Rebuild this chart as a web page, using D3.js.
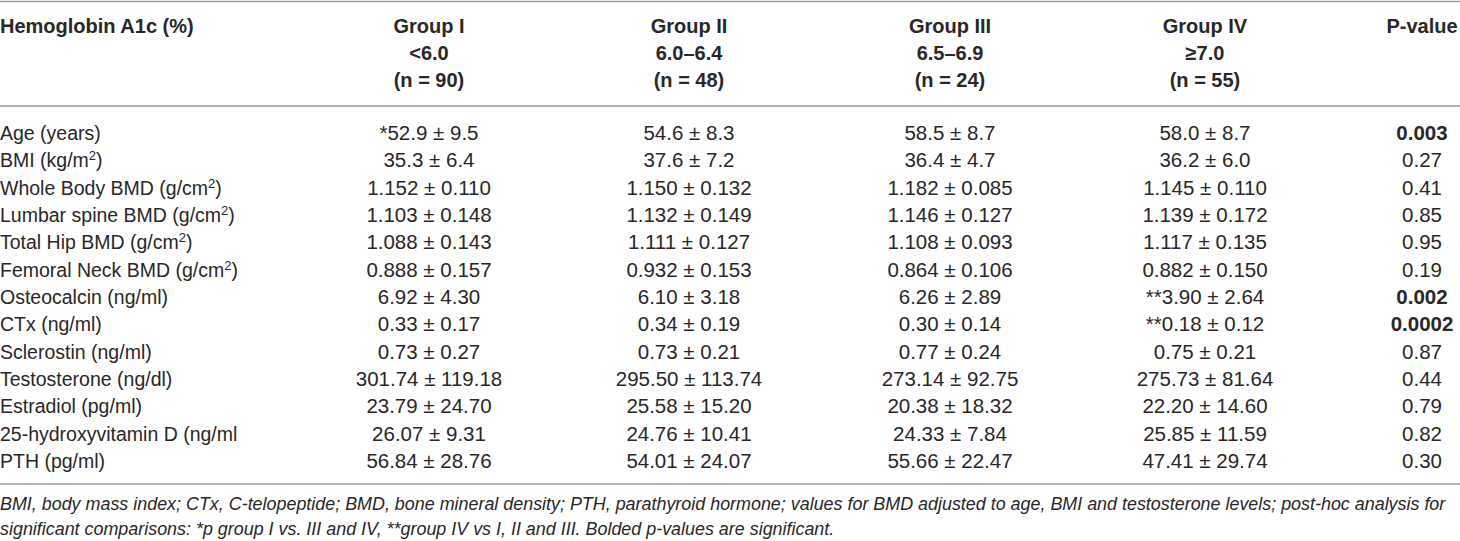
<!DOCTYPE html>
<html>
<head>
<meta charset="utf-8">
<script src="https://cdn.jsdelivr.net/npm/d3@7"></script>
<style>
  body { margin: 0; background: #fff; }
  svg { display: block; }
</style>
</head>
<body>
<div id="wrapper"></div>
<script>
const headerLabel = 'Hemoglobin A1c (%)'
const groups = [
  ['Group I', '<6.0', '(n = 90)'],
  ['Group II', '6.0–6.4', '(n = 48)'],
  ['Group III', '6.5–6.9', '(n = 24)'],
  ['Group IV', '≥7.0', '(n = 55)'],
]
const pHeader = 'P-value'

// row label: text, superscript, closing text
const rowLabels = [
  ['Age (years)', ''],
  ['BMI (kg/m', '2', ')'],
  ['Whole Body BMD (g/cm', '2', ')'],
  ['Lumbar spine BMD (g/cm', '2', ')'],
  ['Total Hip BMD (g/cm', '2', ')'],
  ['Femoral Neck BMD (g/cm', '2', ')'],
  ['Osteocalcin (ng/ml)', ''],
  ['CTx (ng/ml)', ''],
  ['Sclerostin (ng/ml)', ''],
  ['Testosterone (ng/dl)', ''],
  ['Estradiol (pg/ml)', ''],
  ['25-hydroxyvitamin D (ng/ml', ''],
  ['PTH (pg/ml)', ''],
]
const groupI = ['*52.9 ± 9.5', '35.3 ± 6.4', '1.152 ± 0.110', '1.103 ± 0.148', '1.088 ± 0.143', '0.888 ± 0.157', '6.92 ± 4.30', '0.33 ± 0.17', '0.73 ± 0.27', '301.74 ± 119.18', '23.79 ± 24.70', '26.07 ± 9.31', '56.84 ± 28.76']
const groupII = ['54.6 ± 8.3', '37.6 ± 7.2', '1.150 ± 0.132', '1.132 ± 0.149', '1.111 ± 0.127', '0.932 ± 0.153', '6.10 ± 3.18', '0.34 ± 0.19', '0.73 ± 0.21', '295.50 ± 113.74', '25.58 ± 15.20', '24.76 ± 10.41', '54.01 ± 24.07']
const groupIII = ['58.5 ± 8.7', '36.4 ± 4.7', '1.182 ± 0.085', '1.146 ± 0.127', '1.108 ± 0.093', '0.864 ± 0.106', '6.26 ± 2.89', '0.30 ± 0.14', '0.77 ± 0.24', '273.14 ± 92.75', '20.38 ± 18.32', '24.33 ± 7.84', '55.66 ± 22.47']
const groupIV = ['58.0 ± 8.7', '36.2 ± 6.0', '1.145 ± 0.110', '1.139 ± 0.172', '1.117 ± 0.135', '0.882 ± 0.150', '**3.90 ± 2.64', '**0.18 ± 0.12', '0.75 ± 0.21', '275.73 ± 81.64', '22.20 ± 14.60', '25.85 ± 11.59', '47.41 ± 29.74']
const pValues = ['0.003', '0.27', '0.41', '0.85', '0.95', '0.19', '0.002', '0.0002', '0.87', '0.44', '0.79', '0.82', '0.30']
const pBold = [true, false, false, false, false, false, true, true, false, false, false, false, false]
const footnote = [
  'BMI, body mass index; CTx, C-telopeptide; BMD, bone mineral density; PTH, parathyroid hormone; values for BMD adjusted to age, BMI and testosterone levels; post-hoc analysis for',
  'significant comparisons: *p group I vs. III and IV, **group IV vs I, II and III. Bolded p-values are significant.',
]

const width = 1460
const height = 541
const textColor = '#2a2728'
const ruleColor = '#9a9a9a'
const font = '"Liberation Sans", Arial, sans-serif'
const labelSize = 19.5
const valueSize = 20.5
const headSize = 20

const svg = d3.select('#wrapper').append('svg')
  .attr('width', width)
  .attr('height', height)
  .style('font-family', font)
  .attr('fill', textColor)

// column centres (group I..IV, p-value)
const colX = d3.scaleOrdinal()
  .domain([0, 1, 2, 3, 4])
  .range([429, 689, 950, 1205, 1422])

// baselines of body rows and header lines
const rowY = d3.scaleLinear().domain([0, rowLabels.length - 1]).range([140, 468])
const headY = d3.scaleLinear().domain([0, 2]).range([33, 87])

// rules
const rules = [1.5, 106, 484]
svg.selectAll('line.rule').data(rules).enter().append('line')
  .attr('class', 'rule')
  .attr('x1', 0).attr('x2', width)
  .attr('y1', d => d).attr('y2', d => d)
  .attr('stroke', ruleColor)
  .attr('stroke-width', 1.6)

// header
svg.append('text')
  .attr('x', 0).attr('y', headY(0))
  .attr('font-size', headSize).attr('font-weight', 'bold')
  .text(headerLabel)

groups.forEach((g, gi) => {
  svg.append('g').selectAll('text').data(g).enter().append('text')
    .attr('x', colX(gi))
    .attr('y', (d, i) => headY(i))
    .attr('text-anchor', 'middle')
    .attr('font-size', headSize).attr('font-weight', 'bold')
    .text(d => d)
})
svg.append('text')
  .attr('x', colX(4)).attr('y', headY(0))
  .attr('text-anchor', 'middle')
  .attr('font-size', headSize).attr('font-weight', 'bold')
  .text(pHeader)

// row labels
const labels = svg.append('g').selectAll('text').data(rowLabels).enter().append('text')
  .attr('x', 0)
  .attr('y', (d, i) => rowY(i))
  .attr('font-size', labelSize)
labels.append('tspan').text(d => d[0])
labels.filter(d => d[1]).append('tspan')
  .attr('dy', -7).attr('font-size', 13).text(d => d[1])
labels.filter(d => d[1]).append('tspan')
  .attr('dy', 7).text(d => d[2])

// values
const columns = [groupI, groupII, groupIII, groupIV, pValues]
columns.forEach((col, ci) => {
  svg.append('g').selectAll('text').data(col).enter().append('text')
    .attr('x', colX(ci))
    .attr('y', (d, i) => rowY(i))
    .attr('text-anchor', 'middle')
    .attr('font-size', valueSize)
    .attr('font-weight', (d, i) => (ci === 4 && pBold[i]) ? 'bold' : null)
    .text(d => d)
})

// footnote, stretched to the table width
const fn = svg.append('g').selectAll('text').data(footnote).enter().append('text')
  .attr('x', 0)
  .attr('y', 0)
  .attr('font-size', 18)
  .attr('font-style', 'italic')
  .text(d => d)
const fnW = fn.nodes()[0].getComputedTextLength()
const fnScale = 1447 / fnW
fn.attr('transform', (d, i) => 'translate(0,' + (510 + i * 25) + ') scale(' + fnScale + ',1)')
</script>
</body>
</html>
